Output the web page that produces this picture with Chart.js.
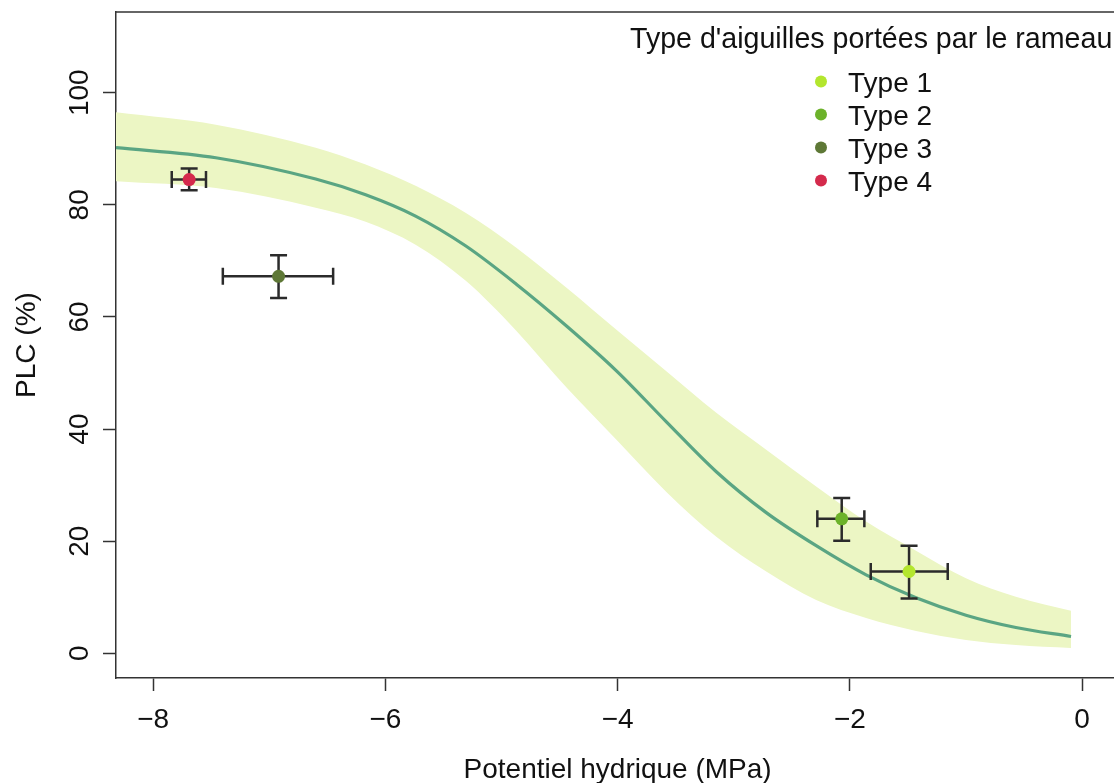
<!DOCTYPE html>
<html>
<head>
<meta charset="utf-8">
<script src="https://cdn.jsdelivr.net/npm/chart.js@4.4.1/dist/chart.umd.min.js"></script>
<style>
  html, body { margin: 0; padding: 0; background: #fff; overflow: hidden; }
</style>
</head>
<body>
<canvas id="plc" width="1114" height="783"></canvas>
<script>
// water potential grid used for the fitted curve and its band
const modelX = [-8.32, -7.46, -6.60, -6.17, -5.74, -5.31, -4.875, -4.44, -4.01, -3.58, -3.15, -2.72, -2.29, -1.86, -1.43, -1.00, -0.57, -0.095];
const curveY = [90.2, 88.4, 84.6, 81.8, 78.0, 72.7, 65.9, 58.4, 50.4, 41.3, 32.4, 25.1, 19.2, 14.0, 9.9, 6.8, 4.6, 3.0];
const bandUpper = [96.5, 94.3, 90.2, 87.2, 83.4, 78.6, 72.4, 65.2, 57.7, 50.3, 42.9, 36.3, 29.75, 23.5, 18.3, 13.4, 10.1, 7.6];
const bandLower = [84.2, 83.0, 79.5, 77.0, 72.9, 66.5, 57.6, 47.4, 38.1, 28.8, 20.8, 14.6, 9.5, 6.3, 4.0, 2.4, 1.5, 0.95];

// mean PLC per needle type, with error bars
const typeLabels = ['Type 1', 'Type 2', 'Type 3', 'Type 4'];
const typeColors = ['#b3e62e', '#6cb22a', '#5e7836', '#d42a4c'];
const meanX = [-1.49, -2.07, -6.92, -7.69];
const meanY = [14.6, 24.0, 67.25, 84.5];
const xErrLow = [-1.82, -2.28, -7.40, -7.84];
const xErrHigh = [-1.157, -1.875, -6.45, -7.545];
const yErrLow = [9.8, 20.1, 63.4, 82.6];
const yErrHigh = [19.2, 27.7, 71.0, 86.5];

const xTicks = [-8, -6, -4, -2, 0];
const yTicks = [0, 20, 40, 60, 80, 100];

const FONT = '"Liberation Sans", Arial, Helvetica, sans-serif';
const INK = '#111';

const errorBars = {
    id: 'errorBars',
    beforeDatasetDraw(chart, args) {
        if (args.index !== 0) return;
        const ctx = chart.ctx;
        const x = chart.scales.x, y = chart.scales.y;
        const cap = 8.5;
        ctx.save();
        ctx.strokeStyle = '#2b2b2b';
        ctx.lineWidth = 2.5;
        for (let i = 0; i < meanX.length; i++) {
            const px = x.getPixelForValue(meanX[i]);
            const py = y.getPixelForValue(meanY[i]);
            const xl = x.getPixelForValue(xErrLow[i]);
            const xh = x.getPixelForValue(xErrHigh[i]);
            const yl = y.getPixelForValue(yErrLow[i]);
            const yh = y.getPixelForValue(yErrHigh[i]);
            ctx.beginPath();
            ctx.moveTo(xl, py); ctx.lineTo(xh, py);
            ctx.moveTo(xl, py - cap); ctx.lineTo(xl, py + cap);
            ctx.moveTo(xh, py - cap); ctx.lineTo(xh, py + cap);
            ctx.moveTo(px, yl); ctx.lineTo(px, yh);
            ctx.moveTo(px - cap, yl); ctx.lineTo(px + cap, yl);
            ctx.moveTo(px - cap, yh); ctx.lineTo(px + cap, yh);
            ctx.stroke();
        }
        ctx.restore();
    }
};

const decorations = {
    id: 'decorations',
    afterDraw(chart) {
        const ctx = chart.ctx;
        const area = chart.chartArea;
        const x = chart.scales.x, y = chart.scales.y;
        ctx.save();

        // top of the box
        ctx.strokeStyle = '#333';
        ctx.lineWidth = 1.5;
        ctx.beginPath();
        ctx.moveTo(area.left, area.top);
        ctx.lineTo(area.right, area.top);
        ctx.stroke();

        ctx.fillStyle = INK;
        ctx.font = '28px ' + FONT;
        ctx.textBaseline = 'alphabetic';

        // x tick labels
        ctx.textAlign = 'center';
        xTicks.forEach(v => {
            ctx.fillText(String(v).replace('-', '\u2212'), x.getPixelForValue(v), 728);
        });

        // y tick labels, rotated like base R
        yTicks.forEach(v => {
            ctx.save();
            ctx.translate(88, y.getPixelForValue(v));
            ctx.rotate(-Math.PI / 2);
            ctx.textAlign = 'center';
            ctx.fillText(String(v), 0, 0);
            ctx.restore();
        });

        // axis titles
        ctx.save();
        ctx.translate(35, (area.top + area.bottom) / 2);
        ctx.rotate(-Math.PI / 2);
        ctx.textAlign = 'center';
        ctx.fillText('PLC (%)', 0, 0);
        ctx.restore();

        const boxRight = x.getPixelForValue(0.32);
        ctx.textAlign = 'center';
        ctx.fillText('Potentiel hydrique (MPa)', (area.left + boxRight) / 2, 778);

        // legend
        ctx.textAlign = 'left';
        ctx.font = '28.6px ' + FONT;
        ctx.fillText("Type d'aiguilles portées par le rameau", 630, 48);
        ctx.font = '28px ' + FONT;
        const rows = [81.5, 114.5, 147.5, 180.5];
        typeLabels.forEach((lab, i) => {
            ctx.fillStyle = typeColors[i];
            ctx.beginPath();
            ctx.arc(821, rows[i], 6, 0, Math.PI * 2);
            ctx.fill();
            ctx.fillStyle = INK;
            ctx.fillText(lab, 848, rows[i] + 10);
        });

        ctx.restore();
    }
};

const ctx = document.getElementById('plc').getContext('2d');

new Chart(ctx, {
    type: 'line',
    data: {
        datasets: [
            {
                label: 'points',
                data: meanX.map((v, i) => ({ x: v, y: meanY[i] })),
                showLine: false,
                pointRadius: 6.5,
                pointHoverRadius: 6.5,
                pointBorderWidth: 0,
                pointBackgroundColor: typeColors,
                order: 0
            },
            {
                label: 'curve',
                data: modelX.map((v, i) => ({ x: v, y: curveY[i] })),
                borderColor: '#5aa583',
                borderWidth: 3.2,
                pointRadius: 0,
                cubicInterpolationMode: 'monotone',
                fill: false,
                order: 1
            },
            {
                label: 'upper',
                data: modelX.map((v, i) => ({ x: v, y: bandUpper[i] })),
                borderWidth: 0,
                borderColor: 'rgba(0,0,0,0)',
                backgroundColor: '#ecf6c4',
                pointRadius: 0,
                cubicInterpolationMode: 'monotone',
                fill: '+1',
                order: 2
            },
            {
                label: 'lower',
                data: modelX.map((v, i) => ({ x: v, y: bandLower[i] })),
                borderWidth: 0,
                borderColor: 'rgba(0,0,0,0)',
                pointRadius: 0,
                cubicInterpolationMode: 'monotone',
                fill: false,
                order: 3
            }
        ]
    },
    options: {
        responsive: false,
        animation: false,
        layout: { autoPadding: false, padding: { top: 12, left: 0, right: 0, bottom: 0 } },
        plugins: {
            legend: { display: false },
            tooltip: { enabled: false }
        },
        scales: {
            x: {
                type: 'linear',
                min: -8.32,
                max: 0.275,
                afterBuildTicks: s => { s.ticks = xTicks.map(v => ({ value: v })); },
                afterFit: s => { s.height = 105; },
                grid: { display: true, drawOnChartArea: false, drawTicks: true, tickLength: 13, tickColor: '#333', tickWidth: 1.5 },
                border: { display: true, color: '#333', width: 1.5 },
                ticks: { display: false }
            },
            y: {
                type: 'linear',
                min: -4.4,
                max: 114.4,
                afterBuildTicks: s => { s.ticks = yTicks.map(v => ({ value: v })); },
                afterFit: s => { s.width = 116; },
                grid: { display: true, drawOnChartArea: false, drawTicks: true, tickLength: 13, tickColor: '#333', tickWidth: 1.5 },
                border: { display: true, color: '#333', width: 1.5 },
                ticks: { display: false }
            }
        }
    },
    plugins: [errorBars, decorations]
});
</script>
</body>
</html>
